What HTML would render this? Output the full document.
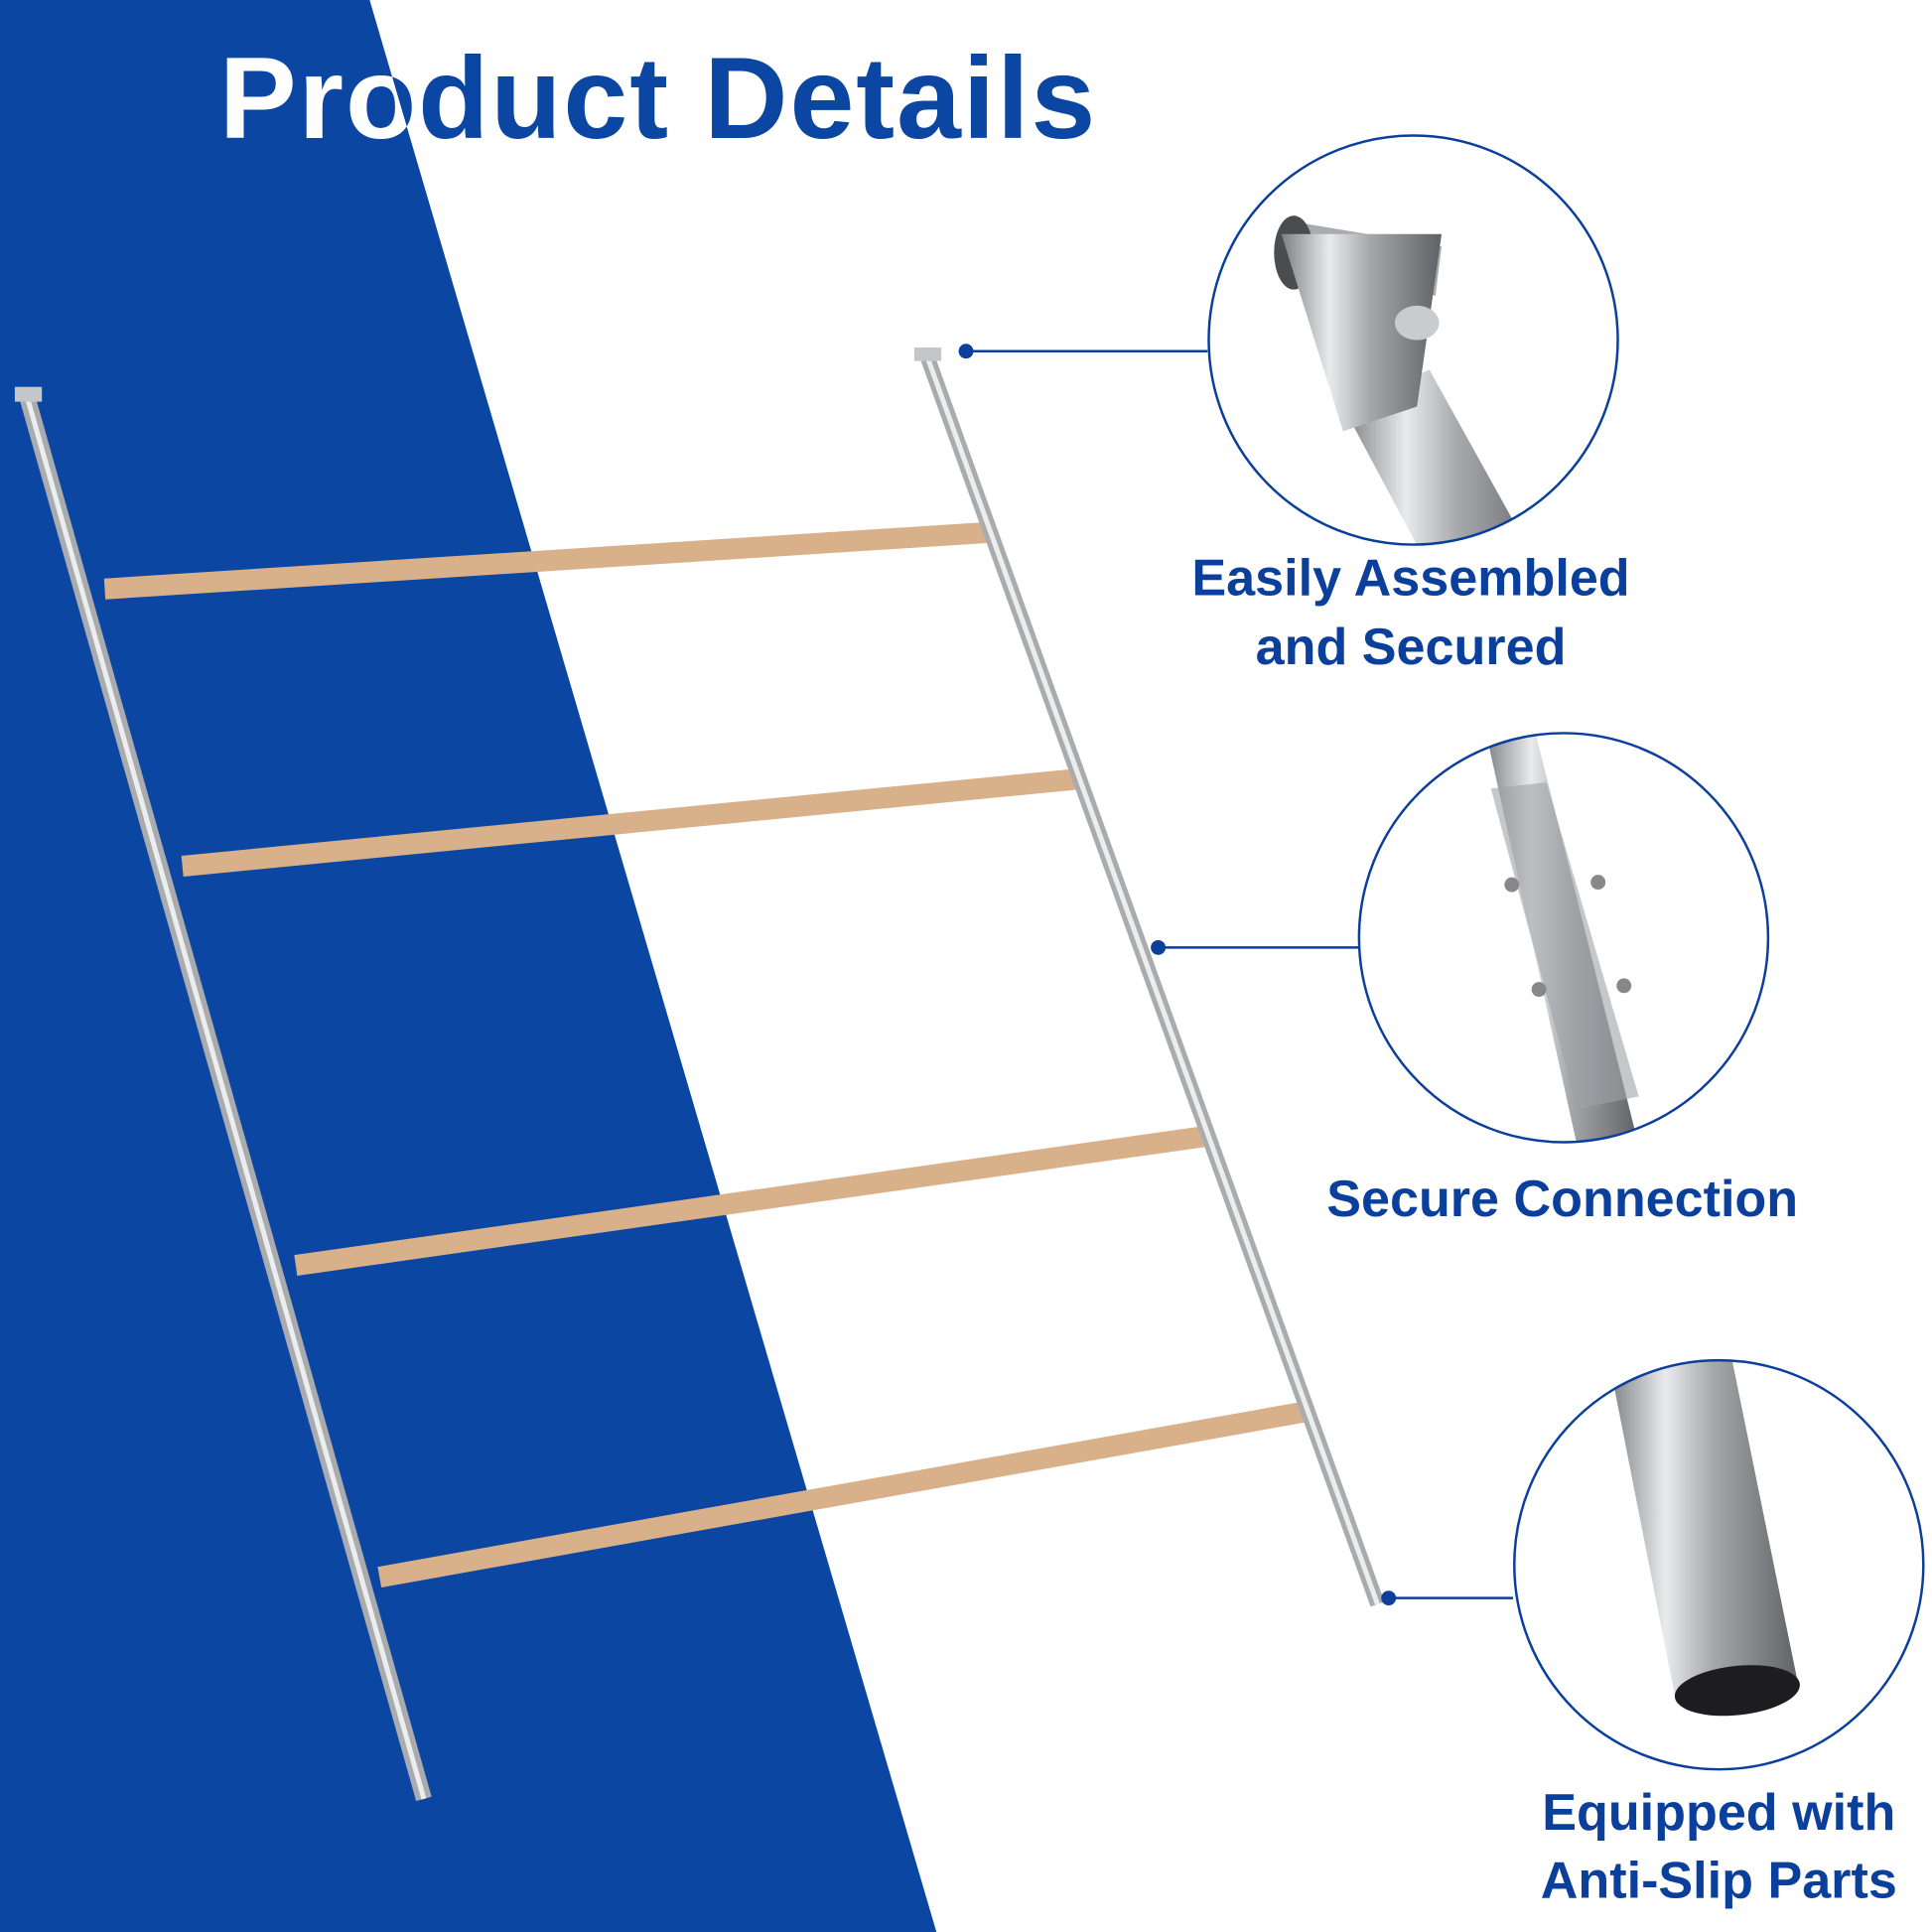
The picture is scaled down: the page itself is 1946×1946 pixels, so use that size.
<!DOCTYPE html>
<html><head><meta charset="utf-8"><style>
html,body{margin:0;padding:0;background:#fff}
svg{display:block}
</style></head><body>
<svg width="1946" height="1946" viewBox="0 0 1568 1568" xmlns="http://www.w3.org/2000/svg">
<defs>
<linearGradient id="steel" x1="0" y1="0" x2="1" y2="0">
<stop offset="0" stop-color="#7d7f83"/><stop offset="0.3" stop-color="#e9eaec"/><stop offset="0.55" stop-color="#a6a8ac"/><stop offset="1" stop-color="#5f6165"/>
</linearGradient>
<clipPath id="c1"><circle cx="1147" cy="276" r="166"/></clipPath>
<clipPath id="c2"><circle cx="1269" cy="761" r="166"/></clipPath>
<clipPath id="c3"><circle cx="1395" cy="1270" r="166"/></clipPath>
<clipPath id="blueclip"><polygon points="0,0 300,0 760,1568 0,1568"/></clipPath>
</defs>
<rect width="1568" height="1568" fill="#fff"/>
<polygon points="0,0 300,0 760,1568 0,1568" fill="#0b46a2"/>

<g font-family="'Liberation Sans',sans-serif" font-weight="bold" font-size="94" letter-spacing="1">
<text x="178" y="112" fill="#0b46a2" textLength="712">Product Details</text>
<text x="178" y="112" fill="#fff" clip-path="url(#blueclip)" textLength="712">Product Details</text>
</g>

<g stroke-linecap="butt" stroke="#d8b089" stroke-width="17">
<line x1="85" y1="478" x2="805" y2="432"/>
<line x1="148" y1="703" x2="878" y2="632"/>
<line x1="240" y1="1027" x2="980" y2="922"/>
<line x1="308" y1="1280" x2="1058" y2="1146"/>
</g>
<line x1="22" y1="322" x2="344" y2="1460" stroke="#a9abae" stroke-width="13"/>
<line x1="22" y1="322" x2="344" y2="1460" stroke="#eceded" stroke-width="4"/>
<line x1="752" y1="288" x2="1118" y2="1302" stroke="#a9abae" stroke-width="12"/>
<line x1="752" y1="288" x2="1118" y2="1302" stroke="#eceded" stroke-width="4"/>
<rect x="12" y="314" width="22" height="12" fill="#c4c6c9"/>
<rect x="742" y="282" width="22" height="11" fill="#c4c6c9"/>

<g stroke="#0b3f9c" stroke-width="2" fill="#0b3f9c">
<line x1="784" y1="285" x2="980" y2="285"/><circle cx="784" cy="285" r="6" stroke="none"/>
<line x1="940" y1="769" x2="1103" y2="769"/><circle cx="940" cy="769" r="6" stroke="none"/>
<line x1="1127" y1="1297" x2="1228" y2="1297"/><circle cx="1127" cy="1297" r="6" stroke="none"/>
</g>

<g clip-path="url(#c1)">
<rect x="960" y="100" width="380" height="360" fill="#fff"/>
<polygon points="1090,330 1160,300 1260,480 1170,480" fill="url(#steel)"/>
<polygon points="1050,180 1170,200 1165,240 1060,215" fill="#a9abae"/>
<ellipse cx="1050" cy="205" rx="16" ry="30" fill="#4a4c50"/>
<polygon points="1040,190 1170,190 1150,330 1090,350" fill="url(#steel)"/>
<ellipse cx="1150" cy="262" rx="18" ry="14" fill="#c9cbce"/>
</g>
<circle cx="1147" cy="276" r="166" fill="none" stroke="#0b3f9c" stroke-width="2"/>

<g clip-path="url(#c2)">
<polygon points="1205,590 1245,590 1330,930 1280,930" fill="url(#steel)"/>
<polygon points="1210,640 1255,635 1330,890 1280,900" fill="#a0a2a6" opacity="0.6"/>
<circle cx="1227" cy="718" r="6" fill="#888"/><circle cx="1297" cy="716" r="6" fill="#888"/>
<circle cx="1249" cy="803" r="6" fill="#888"/><circle cx="1318" cy="800" r="6" fill="#888"/>
</g>
<circle cx="1269" cy="761" r="166" fill="none" stroke="#0b3f9c" stroke-width="2"/>

<g clip-path="url(#c3)">
<polygon points="1305,1100 1405,1100 1460,1370 1360,1380" fill="url(#steel)"/>
<ellipse cx="1410" cy="1372" rx="51" ry="20" transform="rotate(-6 1410 1372)" fill="#1d1d1f"/>
</g>
<circle cx="1395" cy="1270" r="166" fill="none" stroke="#0b3f9c" stroke-width="2"/>

<g font-family="'Liberation Sans',sans-serif" font-weight="bold" font-size="42" fill="#0b3f9c" text-anchor="middle">
<text x="1145" y="483">Easily Assembled</text>
<text x="1145" y="539">and Secured</text>
<text x="1268" y="987">Secure Connection</text>
<text x="1395" y="1485">Equipped with</text>
<text x="1395" y="1540">Anti-Slip Parts</text>
</g>
</svg>
</body></html>
